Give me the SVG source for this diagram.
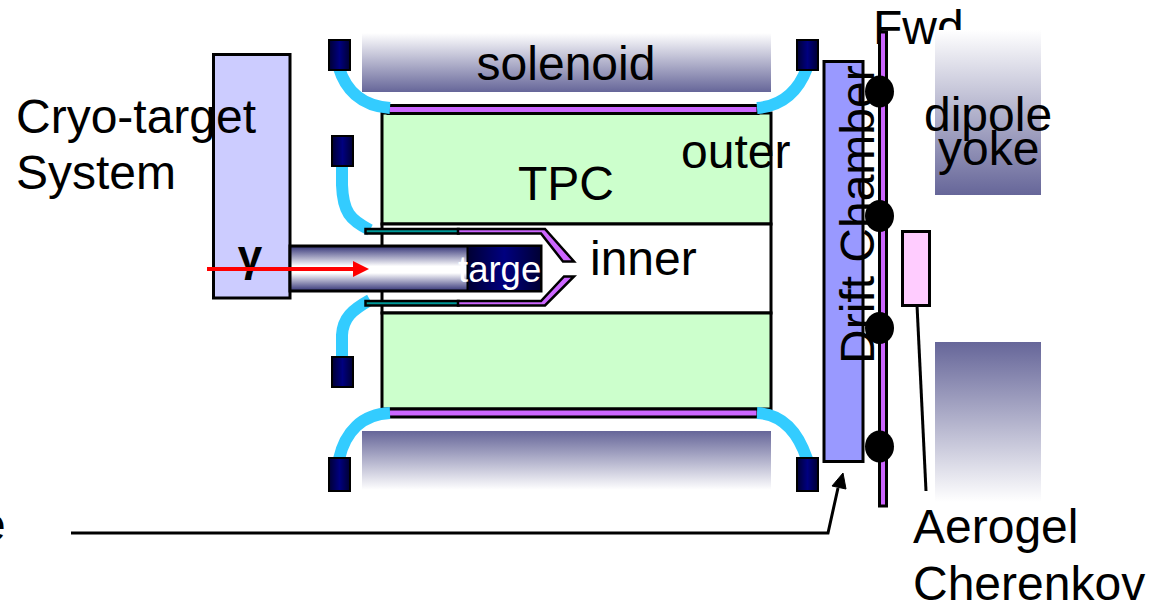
<svg xmlns="http://www.w3.org/2000/svg" width="1165" height="613" viewBox="0 0 1165 613">
<style>
text{font-family:"Liberation Sans",Arial,sans-serif;font-size:48px;fill:#000}
.s{stroke:#000;stroke-width:3}
.mag{fill:#cc66ff}
.tpc{fill:#ccffcc}
.coil{fill:url(#coil);stroke:#000;stroke-width:2}
.cable{fill:none;stroke:#33ccff;stroke-width:12}
.teal{fill:#009999;stroke:#000;stroke-width:2.5}
.ln{fill:none;stroke:#000;stroke-width:3}
</style>
<defs>
<linearGradient id="down" x1="0" y1="0" x2="0" y2="1"><stop offset="0" stop-color="#fff"/><stop offset="1" stop-color="#666699"/></linearGradient>
<linearGradient id="up" x1="0" y1="0" x2="0" y2="1"><stop offset="0" stop-color="#666699"/><stop offset="1" stop-color="#fff"/></linearGradient>
<linearGradient id="pipe" x1="0" y1="0" x2="0" y2="1"><stop offset="0" stop-color="#333377"/><stop offset="0.45" stop-color="#fff"/><stop offset="0.6" stop-color="#fff"/><stop offset="1" stop-color="#333377"/></linearGradient>
<linearGradient id="coil" x1="0" y1="0" x2="1" y2="0"><stop offset="0" stop-color="#000033"/><stop offset="0.5" stop-color="#000080"/><stop offset="1" stop-color="#000033"/></linearGradient>
</defs>
<g id="fwd-label"><text x="873" y="44">Fwd</text></g>
<g id="solenoid">
<rect x="362" y="33" width="409" height="59" fill="url(#down)"/>
<rect x="362" y="431" width="409" height="59" fill="url(#up)"/>
<text x="566" y="80" text-anchor="middle">solenoid</text>
</g>
<g id="dipole-yoke">
<rect x="935" y="30" width="106" height="165" fill="url(#down)"/>
<rect x="935" y="342" width="106" height="160" fill="url(#up)"/>
<text x="924" y="131">dipole</text>
<text x="938" y="165">yoke</text>
</g>
<g id="tpc">
<rect x="382" y="113" width="389" height="111" class="tpc s"/>
<rect x="382" y="224" width="389" height="89" fill="#fff" class="s"/>
<rect x="382" y="313" width="389" height="96" class="tpc s"/>
<rect x="388" y="105.500" width="370" height="8" class="mag s"/>
<rect x="388" y="409" width="370" height="8" class="mag s"/>
<text x="518" y="200">TPC</text>
<text x="681" y="168">outer</text>
<text x="590" y="275">inner</text>
</g>
<g id="cables">
<path class="cable" d="M339 68C345 88 360 106 390 108"/>
<path class="cable" d="M807 68C798 92 782 106 757 108"/>
<path class="cable" d="M342 164V185C343 212 350 220 370 230"/>
<path class="cable" d="M342 358V335C343 318 352 310 370 300"/>
<path class="cable" d="M339 459C345 432 362 414 390 413"/>
<path class="cable" d="M807 459C798 432 782 414 757 413"/>
</g>
<g id="coils">
<rect x="329" y="40" width="21" height="30" class="coil"/>
<rect x="332" y="136" width="21" height="30" class="coil"/>
<rect x="332" y="357" width="21" height="30" class="coil"/>
<rect x="329" y="458" width="21" height="33" class="coil"/>
<rect x="797" y="40" width="21" height="30" class="coil"/>
<rect x="797" y="458" width="21" height="33" class="coil"/>
</g>
<g id="cryo-target">
<rect x="213.500" y="54.500" width="76.500" height="243.500" fill="#ccccff" class="s"/>
<text x="16" y="133">Cryo-target</text>
<text x="16" y="189">System</text>
</g>
<g id="beam-pipe">
<rect x="290" y="246" width="251" height="45" fill="url(#pipe)" class="s"/>
<rect x="467.500" y="246" width="73.500" height="45" fill="url(#coil)" stroke="#000" stroke-width="2"/>
<text x="458" y="282" style="font-size:36.500px;fill:#fff">targe</text>
</g>
<g id="inner-target-holder">
<rect x="365.500" y="229" width="93" height="4.500" class="teal"/>
<rect x="365.500" y="301" width="93" height="4.500" class="teal"/>
<path class="mag" stroke="#000" stroke-width="2.500" d="M458 229H545L574 261.500H563L541 233.500H458Z"/>
<path class="mag" stroke="#000" stroke-width="2.500" d="M458 305.500H545L574 276.500H564L541 301H458Z"/>
</g>
<g id="gamma"><text x="250" y="271" text-anchor="middle" style="font-size:44px;font-weight:bold">γ</text></g>
<g id="beam-arrow">
<path d="M207 269H355" stroke="#f00" stroke-width="4" fill="none"/>
<path d="M353 261L369 269L353 277Z" fill="#f00"/>
</g>
<g id="drift-chamber">
<rect x="824" y="61.500" width="39" height="400" fill="#9999ff" class="s"/>
</g>
<g id="fwd-bar">
<rect x="879.500" y="32" width="7" height="474" class="mag s"/>
<ellipse cx="879.500" cy="91.500" rx="14.500" ry="16"/>
<ellipse cx="879.500" cy="216" rx="14.500" ry="16"/>
<ellipse cx="879.500" cy="328" rx="14.500" ry="16"/>
<ellipse cx="879.500" cy="446.500" rx="14.500" ry="16"/>
</g>
<g id="drift-label"><text transform="translate(874 364) rotate(-90)">Drift Chamber</text></g>
<g id="aerogel">
<rect x="902.500" y="231.500" width="27" height="74" fill="#ffccff" class="s"/>
<text x="913" y="543">Aerogel</text>
<text x="913" y="600">Cherenkov</text>
</g>
<g id="connectors">
<path class="ln" d="M917 305L926 491"/>
<path class="ln" d="M71 533H828L838 488"/>
<path d="M843 473L832 486L846 489Z" fill="#000" stroke="#000"/>
</g>
<g id="clipped-label"><text x="-21" y="541">e</text></g>
</svg>
